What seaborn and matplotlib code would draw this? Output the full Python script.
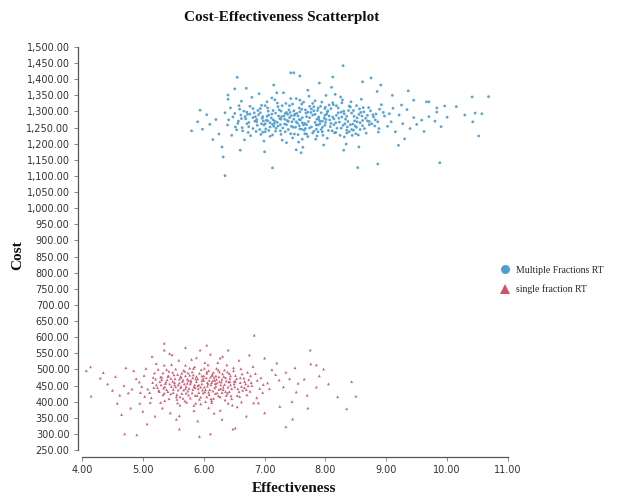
import numpy as np
import pandas as pd
import matplotlib
matplotlib.use("Agg")
import matplotlib.pyplot as plt
import seaborn as sns
from matplotlib.lines import Line2D
from matplotlib.ticker import FuncFormatter, MultipleLocator

series_names = ["Multiple Fractions RT", "single fraction RT"]
x_ticks = [4, 5, 6, 7, 8, 9, 10, 11]

# (effectiveness, cost) pairs
multiple_points = [
    (8.29,1442),(6.55,1406),(7.43,1420),(7.48,1420),(7.58,1410),(8.12,1407),(8.75,1404),
    (8.61,1392),(8.91,1382),(6.35,1101),(7.13,1125),(6.32,1159),(5.80,1240),(10.68,1346),
    (10.41,1345),(10.57,1293),(10.46,1295),(10.29,1289),(10.52,1224),(10.42,1268),(9.88,1141),
    (8.53,1126),(8.86,1137),(10.15,1315),(9.96,1317),(9.83,1311),(9.83,1298),(9.66,1330),
    (9.70,1330),(9.36,1364),(5.90,1268),(5.94,1304),(6.40,1351),(6.51,1370),
    (7.62,1281),(7.15,1254),(8.04,1302),(7.88,1237),(6.93,1296),(7.41,1318),(8.37,1269),
    (7.27,1229),(6.71,1262),(8.55,1291),(7.73,1347),(7.05,1311),(8.19,1248),(7.56,1205),
    (6.48,1283),(8.82,1274),(7.94,1329),(7.33,1276),(6.86,1238),(8.41,1314),(7.69,1259),
    (7.12,1342),(8.67,1233),(6.59,1307),(7.47,1251),(8.06,1286),(7.84,1214),(6.98,1271),
    (8.28,1336),(7.58,1299),(6.77,1225),(8.95,1297),(7.21,1266),(7.91,1262),(8.49,1255),
    (6.39,1258),(7.36,1203),(8.13,1321),(7.79,1289),(6.62,1332),(7.52,1340),(8.71,1312),
    (7.02,1246),(8.34,1199),(7.66,1231),(6.91,1355),(8.22,1279),(7.44,1287),(6.54,1243),
    (9.08,1268),(7.97,1196),(7.18,1295),(8.59,1338),(6.81,1281),(7.31,1358),(8.44,1226),
    (7.74,1316),(6.67,1212),(8.88,1247),(7.09,1223),(7.86,1276),(8.01,1350),(6.44,1311),
    (7.54,1264),(8.31,1293),(6.95,1319),(7.63,1189),(8.76,1262),(7.24,1305),(6.72,1291),
    (8.15,1234),(7.39,1244),(9.21,1289),(7.81,1302),(6.88,1257),(8.52,1280),(7.14,1274),
    (7.71,1366),(6.57,1270),(8.38,1303),(7.49,1230),(8.09,1263),(6.99,1208),(7.93,1244),
    (8.63,1299),(7.28,1284),(6.76,1316),(8.25,1345),(7.59,1274),(9.34,1306),(7.07,1289),
    (8.46,1242),(6.84,1270),(7.77,1252),(8.18,1288),(7.35,1325),(6.63,1250),(8.92,1321),
    (7.45,1268),(8.03,1217),(7.17,1336),(6.51,1294),(8.57,1265),(7.68,1295),(7.01,1262),
    (8.29,1257),(7.83,1333),(6.94,1229),(8.79,1283),(7.38,1291),(7.99,1309),(6.69,1277),
    (8.42,1330),(7.26,1240),(9.02,1254),(7.61,1323),(8.11,1240),(6.89,1303),(7.52,1181),
    (8.64,1247),(7.11,1280),(7.89,1283),(6.46,1226),(8.33,1276),(7.65,1242),(9.45,1281),
    (7.22,1315),(8.07,1274),(6.79,1344),(8.51,1318),(7.42,1297),(7.96,1226),(6.61,1289),
    (8.74,1302),(7.33,1261),(8.21,1311),(6.97,1284),(7.76,1297),(8.87,1236),(7.04,1330),
    (8.36,1252),(7.57,1311),(6.74,1253),(8.16,1353),(7.48,1276),(9.15,1237),(7.85,1258),
    (6.92,1244),(8.47,1285),(7.19,1248),(7.72,1269),(8.61,1272),(6.56,1263),(8.02,1292),
    (7.37,1272),(8.97,1286),(7.13,1260),(7.92,1316),(6.83,1296),(8.39,1237),(7.64,1258),
    (8.26,1298),(7.29,1211),(6.66,1301),(9.27,1262),(7.81,1239),(8.54,1227),(7.06,1301),
    (7.55,1286),(8.12,1327),(6.73,1235),(8.69,1288),(7.43,1340),(7.98,1279),(6.87,1268),
    (8.31,1221),(7.67,1305),(9.58,1273),(7.23,1286),(8.08,1253),(6.58,1318),(7.87,1303),
    (8.45,1261),(7.16,1263),(7.74,1281),(8.81,1255),(6.96,1279),(8.23,1267),(7.51,1251),
    (9.11,1310),(7.34,1294),(8.56,1308),(6.41,1274),(7.95,1270),(8.17,1235),(7.62,1265),
    (6.81,1309),(8.72,1269),(7.27,1276),(8.03,1299),(7.46,1218),(9.39,1247),(7.09,1252),
    (7.83,1291),(8.43,1295),(6.68,1284),(7.57,1256),(8.27,1283),(7.01,1237),(8.89,1307),
    (7.69,1230),(7.30,1249),(8.14,1277),(6.52,1252),(7.79,1325),(8.61,1256),(7.40,1305),
    (9.05,1293),(7.20,1358),(8.35,1242),(6.90,1290),(7.61,1245),(8.00,1266),(6.35,1296),
    (7.50,1292),(8.50,1231),(7.05,1271),(7.88,1258),(6.64,1240),(8.83,1292),(9.50,1260),
    (9.25,1320),(9.70,1284),(9.62,1238),(9.30,1215),(9.80,1270),(10.00,1282),(9.90,1253),
    (9.45,1335),(6.20,1275),(6.10,1260),(6.25,1230),(6.05,1290),(6.15,1213),(6.30,1190),
    (6.40,1338),(5.98,1245),(6.60,1180),(6.70,1372),(7.00,1175),(7.15,1382),(7.60,1172),
    (7.90,1388),(8.30,1180),(8.10,1375),(8.55,1190),(8.85,1362),(9.20,1195),(9.10,1350),
    (7.52,1268),(7.95,1251),(7.34,1237),(8.21,1296),(7.71,1222),(6.99,1258),(8.48,1271),
    (7.61,1307),(7.12,1292),(8.05,1241),(7.83,1266),(7.41,1281),(8.32,1262),(6.85,1284),
    (7.58,1246),(8.66,1279),(7.27,1301),(7.99,1288),(7.46,1323),(8.14,1259),(6.74,1266),
    (7.69,1284),(8.39,1317),(7.18,1239),(7.88,1311),(8.57,1244),(7.03,1273),(7.79,1233),
    (8.26,1248),(7.36,1259),(6.62,1278),(7.64,1329),(8.46,1303),(7.22,1255),(7.93,1296),
    (8.72,1259),(6.93,1309),(7.55,1228),(8.18,1318),(7.48,1302),(7.07,1241),(8.01,1275),
    (7.74,1249),(8.35,1285),(6.81,1247),(7.29,1318),(8.58,1297),(7.86,1224),(7.14,1303),
    (8.09,1309),(7.57,1275),(6.97,1236),(8.43,1244),(7.39,1269),(7.91,1270),(8.78,1290),
    (7.25,1278),(7.67,1247),(8.27,1327),(6.71,1298),(7.81,1315),(7.44,1254),(8.12,1283),
    (7.01,1318),(8.62,1312),(7.53,1294),(7.17,1270),(8.52,1268),(7.95,1237),(6.87,1275),
    (7.71,1298),(8.24,1226),(7.32,1286),(8.41,1259),(7.62,1214),(7.09,1265),(8.06,1320),
    (7.85,1245),(6.76,1292),(8.69,1271),(7.43,1231),(7.99,1257),(7.21,1326),(8.30,1301),
    (7.66,1263),(7.04,1285),(8.51,1251),(7.77,1308),(8.17,1265),(7.36,1297),(6.95,1262),
    (7.58,1335),(8.86,1268),(7.13,1227),(8.00,1313),(7.49,1288),(8.35,1233),(7.89,1276),
    (7.26,1259),(8.60,1286),
]

single_points = [
    (6.83,606),(5.35,581),(7.75,560),(4.14,508),(4.07,496),(4.15,417),(4.30,473),(8.43,462),
    (8.50,417),(8.35,378),(8.20,415),(7.97,501),(7.85,514),(4.70,300),(4.90,297),(5.93,292),
    (6.11,300),(6.48,315),(6.52,318),(7.35,322),(7.46,346),(5.60,315),(5.07,331),(4.65,360),
    (7.71,380),(7.55,457),(7.76,517),
    (5.92,452),(5.41,431),(6.33,478),(6.12,409),(5.67,497),(6.51,446),(5.28,462),(6.02,521),
    (5.84,388),(6.74,468),(5.55,415),(6.21,503),(4.98,447),(6.39,426),(5.73,470),(6.06,459),
    (5.19,489),(6.62,399),(5.88,536),(6.28,452),(5.36,403),(6.85,487),(5.62,443),(6.15,433),
    (5.47,515),(6.43,472),(5.95,414),(5.11,428),(6.58,528),(5.79,461),(6.08,381),(5.31,476),
    (6.92,441),(5.69,402),(6.26,492),(5.52,459),(6.11,547),(4.89,471),(6.46,409),(5.83,483),
    (5.98,436),(5.24,444),(6.69,455),(5.59,528),(6.36,431),(5.05,503),(6.18,466),(5.75,420),
    (6.81,509),(5.42,480),(5.96,499),(6.55,384),(5.33,421),(6.01,445),(5.65,463),(7.05,458),
    (5.16,459),(6.31,540),(5.87,395),(6.24,418),(5.49,491),(6.76,432),(4.82,439),(6.04,474),
    (5.71,447),(6.41,461),(5.29,397),(6.63,486),(5.94,560),(5.56,407),(6.13,397),(7.18,484),
    (5.37,456),(6.49,505),(5.81,427),(6.20,448),(5.02,481),(6.71,421),(5.63,475),(6.37,464),
    (5.90,471),(5.45,365),(6.88,466),(6.07,514),(5.22,518),(6.56,440),(5.76,441),(6.27,373),
    (5.50,438),(7.31,446),(5.14,412),(6.14,485),(5.85,508),(6.45,418),(4.94,461),(6.66,473),
    (5.58,452),(6.34,498),(5.99,427),(5.39,499),(6.82,396),(6.09,466),(5.70,513),(5.26,435),
    (6.52,463),(5.93,488),(6.22,427),(4.76,427),(6.97,428),(5.61,389),(6.38,514),(5.78,455),
    (6.17,475),(5.34,442),(7.12,499),(5.53,471),(6.03,400),(6.60,459),(5.08,439),(5.86,443),
    (6.29,461),(5.44,549),(6.79,450),(5.67,436),(6.47,389),(5.97,480),(5.21,470),(6.94,474),
    (5.74,489),(6.16,410),(5.35,513),(6.64,435),(4.69,450),(6.05,492),(5.57,396),(6.44,480),
    (5.89,419),(6.25,438),(5.12,397),(7.24,467),(5.66,467),(6.35,405),(6.00,466),(5.46,424),
    (6.72,491),(5.80,531),(6.19,456),(4.85,496),(6.54,471),(5.60,458),(6.32,445),(5.91,440),
    (5.30,452),(6.87,412),(6.10,437),(5.72,398),(7.41,471),(5.40,468),(6.23,521),(5.82,474),
    (6.59,416),(5.17,475),(6.42,487),(5.95,393),(5.51,483),(6.77,480),(4.62,420),(6.08,429),
    (5.64,425),(6.30,469),(5.03,416),(6.98,453),(5.77,504),(6.13,459),(5.43,409),(6.67,443),
    (5.88,462),(6.40,395),(5.25,500),(7.08,440),(5.54,446),(6.20,480),(4.96,428),(6.50,455),
    (5.70,480),(6.06,448),(7.52,430),(5.32,380),(6.61,502),(5.84,372),(6.27,535),(5.48,545),
    (6.90,396),(5.60,356),(6.17,364),(7.35,491),(4.55,478),(4.50,435),(4.72,505),(4.58,395),
    (4.80,380),(5.00,370),(5.15,540),(5.35,560),(5.70,568),(6.05,575),(6.40,560),(6.75,545),
    (7.00,535),(7.20,520),(7.50,505),(7.65,470),(7.70,420),(7.45,400),(7.25,385),(7.00,365),
    (6.70,355),(6.30,345),(5.90,340),(5.55,345),(5.20,355),(4.95,395),(7.85,445),(7.90,480),
    (8.05,455),(4.42,455),(4.35,490),
    (5.85,452),(6.15,465),(5.62,478),(6.32,437),(5.47,447),(6.05,488),(5.74,433),(6.44,452),
    (5.93,407),(5.31,468),(6.24,498),(5.56,422),(6.67,462),(5.81,492),(6.09,422),(5.39,437),
    (6.52,481),(5.68,455),(6.18,443),(5.97,465),(5.22,452),(6.36,474),(5.78,411),(6.01,503),
    (5.49,463),(6.58,431),(5.64,488),(6.27,415),(5.88,478),(6.12,452),(5.33,489),(6.46,440),
    (5.71,426),(6.03,437),(5.54,501),(6.73,449),(5.90,449),(6.21,469),(5.44,455),(6.39,492),
    (5.66,410),(5.99,472),(6.55,419),(5.27,431),(6.14,481),(5.79,466),(6.30,428),(5.58,436),
    (6.07,455),(5.83,503),(6.43,462),(5.41,478),(6.62,447),(5.73,457),(6.19,425),(5.95,445),
    (5.36,446),(6.34,453),(5.60,470),(6.08,496),(5.86,419),(6.49,496),(5.50,428),(6.25,477),
    (5.69,494),(6.02,430),(5.18,444),(6.40,445),(5.77,482),(6.16,491),(5.46,472),(6.60,474),
    (5.92,428),(6.28,440),(5.63,447),(6.11,476),(5.38,461),(6.70,437),(5.82,437),(6.05,415),
    (5.52,452),(6.37,419),(5.75,465),(6.22,458),(5.29,476),(6.50,463),(5.97,455),(5.61,415),
    (6.31,486),(5.87,470),(6.13,403),(5.43,494),(6.78,459),(5.70,440),(6.00,480),(5.57,484),
    (6.42,431),(5.84,446),(6.26,462),(5.35,426),
]

colors = {"Multiple Fractions RT": "#4f9fd4", "single fraction RT": "#cc5570"}
markers = {"Multiple Fractions RT": "o", "single fraction RT": "^"}

rows = []
for name, pts in zip(series_names, [multiple_points, single_points]):
    for e, c in pts:
        rows.append({"Effectiveness": e, "Cost": c, "Group": name})
df = pd.DataFrame(rows)

sns.set_theme(style="ticks")
plt.rcParams["font.family"] = ["DejaVu Sans"]

fig = plt.figure(figsize=(6.22, 4.99), dpi=100)
ax = fig.add_axes([82/622, 49/499, 426/622, 403/499])

sns.scatterplot(data=df, x="Effectiveness", y="Cost", hue="Group", style="Group",
                palette=colors, markers=markers, s=4, linewidth=0, alpha=0.95,
                legend=False, ax=ax)

ax.set_xlim(4, 11)
ax.set_ylim(250, 1500)
ax.set_xticks(x_ticks)
ax.yaxis.set_major_locator(MultipleLocator(50))
fmt = FuncFormatter(lambda v, p: f"{v:,.2f}")
ax.xaxis.set_major_formatter(fmt)
ax.yaxis.set_major_formatter(fmt)

for side in ["top", "right"]:
    ax.spines[side].set_visible(False)
ax.spines["left"].set_position(("outward", 3))
ax.spines["bottom"].set_position(("outward", 5))
for side in ["left", "bottom"]:
    ax.spines[side].set_color("#555555")
    ax.spines[side].set_linewidth(0.9)
ax.tick_params(axis="both", which="major", length=3, width=0.7, color="#888888",
               labelsize=7, labelcolor="#333333", pad=3)

ax.set_xlabel("")
ax.set_ylabel("")
serif = ["Liberation Serif", "DejaVu Serif"]
fig.text(282/622, 1 - 18/499, "Cost-Effectiveness Scatterplot", ha="center", va="center",
         fontsize=11, fontweight="bold", family=serif, color="#111111")
fig.text(294/622, 1 - 488/499, "Effectiveness", ha="center", va="center",
         fontsize=11, fontweight="bold", family=serif, color="#111111")
fig.text(18/622, 1 - 255/499, "Cost", ha="center", va="center", rotation=90,
         fontsize=11, fontweight="bold", family=serif, color="#111111")

handles = [Line2D([], [], linestyle="none", marker=markers[n], color=colors[n],
                  markersize=6.5, markeredgewidth=0) for n in series_names]
fig.legend(handles, series_names, loc="center left",
           bbox_to_anchor=(490/622, 1 - 280/499), frameon=False,
           prop={"family": serif, "size": 7}, handletextpad=0.6, labelspacing=1.0,
           handlelength=1.2)

fig.savefig("out.png", dpi=100)
